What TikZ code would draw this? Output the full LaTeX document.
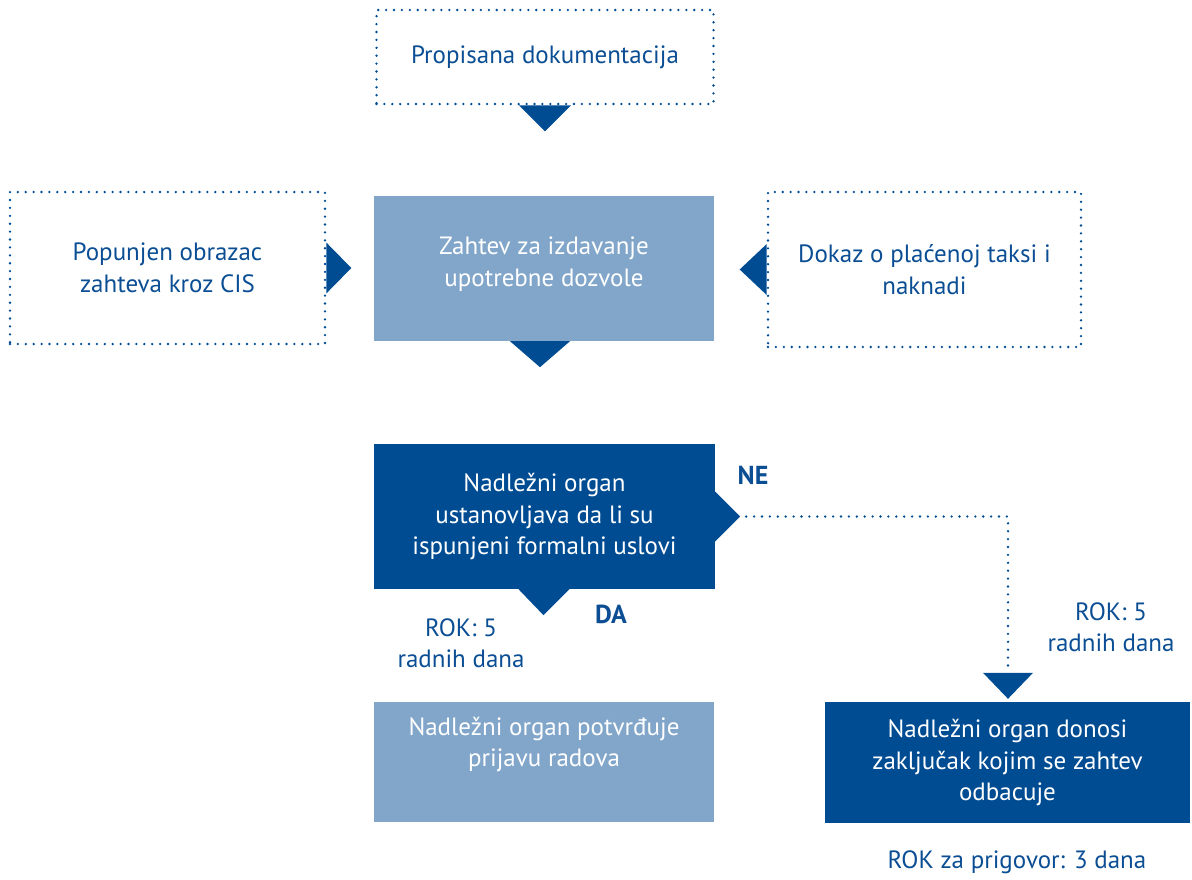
\documentclass[tikz,border=0pt]{standalone}
\usepackage{fontspec}
\setmainfont{PT Sans}
\usetikzlibrary{calc}
\definecolor{dblue}{HTML}{004C93}
\definecolor{lblue}{HTML}{81A6CA}
\definecolor{tblue}{HTML}{0B4E94}
\begin{document}
\begin{tikzpicture}[x=1pt,y=-1pt,
  every node/.style={font=\fontsize{25}{31.5}\selectfont, text=tblue, align=center, inner sep=0pt},
  dotbox/.style={draw=dblue, line width=2.6pt, dash pattern=on 0pt off 7.9pt, line cap=round},
  lightbox/.style={fill=lblue, text=white},
  darkbox/.style={fill=dblue, text=white},
  tri/.style={fill=dblue},
  dotline/.style={draw=dblue, line width=2.6pt, dash pattern=on 0pt off 7.9pt, line cap=round},
  lbl/.style={text=tblue},
  blbl/.style={text=tblue, font=\fontsize{26}{31}\selectfont\bfseries}]
\useasboundingbox (0,0) rectangle (1192,879);

% nodes
\node[dotbox, minimum width=337pt, minimum height=94pt] (doc) at (545,57) {Propisana dokumentacija};
\node[dotbox, minimum width=315pt, minimum height=152pt] (obr) at (167.5,268) {Popunjen obrazac\\zahteva kroz CIS};
\node[lightbox, minimum width=340pt, minimum height=145pt, text depth=14pt] (zah) at (544,268.5) {Zahtev za izdavanje\\upotrebne dozvole};
\node[dotbox, minimum width=313pt, minimum height=155pt] (dok) at (924.5,269.5) {Dokaz o plaćenoj taksi i\\naknadi};
\node[darkbox, minimum width=341pt, minimum height=145pt] (nad) at (544.5,516.5) {Nadležni organ\\ustanovljava da li su\\ispunjeni formalni uslovi};
\node[lightbox, minimum width=340pt, minimum height=120pt, text depth=40pt] (pot) at (544,762) {Nadležni organ potvrđuje\\prijavu radova};
\node[darkbox, minimum width=365pt, minimum height=121pt] (odb) at (1007.5,762.5) {Nadležni organ donosi\\zaključak kojim se zahtev\\odbacuje};

% labels
\node[blbl] (ne) at (753,475) {NE};
\node[blbl] (da) at (611,614) {DA};
\node[lbl] (rok1) at (461,643) {ROK: 5\\radnih dana};
\node[lbl] (rok2) at (1111,627) {ROK: 5\\radnih dana};
\node[lbl] (rok3) at (1017,862) {ROK za prigovor: 3 dana};

% triangles
\fill[tri] ($(doc.south)+(-26,0)$) -- ($(doc.south)+(26,0)$) -- ($(doc.south)+(0,26)$) -- cycle;
\fill[tri] ($(zah.south)+(-34,0)$) -- ($(zah.south)+(26,0)$) -- ($(zah.south)+(-4,26)$) -- cycle;
\fill[tri] ($(nad.south)+(-26,0)$) -- ($(nad.south)+(25,0)$) -- ($(nad.south)+(-1,26)$) -- cycle;
\fill[tri] ($(obr.east)+(0,-25.5)$) -- ($(obr.east)+(0,25.5)$) -- ($(obr.east)+(25,0)$) -- cycle;
\fill[tri] ($(dok.west)+(0,-25.5)$) -- ($(dok.west)+(0,25.5)$) -- ($(dok.west)+(-27,0)$) -- cycle;
\fill[tri] ($(nad.east)+(0,-25)$) -- ($(nad.east)+(0,25)$) -- ($(nad.east)+(25,0)$) -- cycle;
\coordinate (tip) at ($(odb.north)+(0.5,-3)$);
\coordinate (ttop) at ($(tip)+(0,-26)$);
\fill[tri] ($(ttop)+(-25,0)$) -- ($(ttop)+(25,0)$) -- (tip) -- cycle;

% connector NE
\coordinate (nestart) at ($(nad.east)+(31,0)$);
\draw[dotline] (nestart) -| ($(ttop)+(0,-4)$);
\end{tikzpicture}
\end{document}
